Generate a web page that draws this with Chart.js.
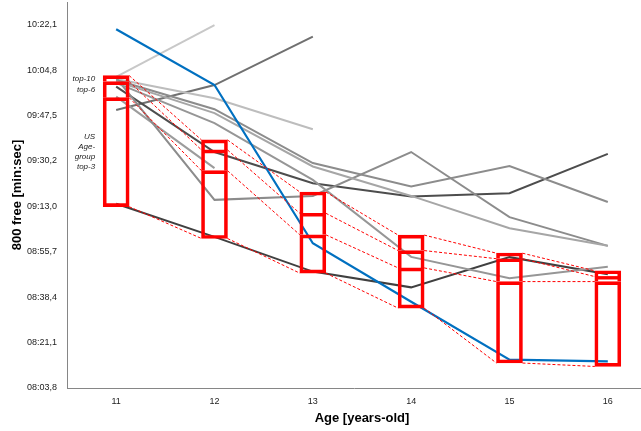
<!DOCTYPE html>
<html><head><meta charset="utf-8">
<script src="https://cdn.jsdelivr.net/npm/chart.js@4"></script>
<style>
html,body{margin:0;padding:0;background:#fff;overflow:hidden;width:641px;height:431px;}
#c{display:block;}
</style></head><body>
<canvas id="c" width="641" height="431" style="width:641px;height:431px"></canvas>
<script>
// ---- data (seconds) ----
const ages = [11, 12, 13, 14, 15, 16];
const xTickLabels = ['11', '12', '13', '14', '15', '16'];
const yTickValues = [483.8, 501.1, 518.4, 535.7, 553.0, 570.2, 587.5, 604.8, 622.1];
const yTickLabels = ['08:03,8', '08:21,1', '08:38,4', '08:55,7', '09:13,0', '09:30,2', '09:47,5', '10:04,8', '10:22,1'];

const swimmerBlue = [620.3, 599.1, 538.9, 516.6, 494.6, 493.9];
const swimmerA = [598.5, 573.6, 561.7, 556.7, 557.9, 572.9];
const swimmerB = [553.9, 541.3, 528.1, 522.1, 533.6, 527.1];
const swimmerC = [601.8, 555.4, 556.9, 573.6, 548.8, 537.9];
const swimmerD = [601.0, 589.9, 569.4, 560.5, 568.3, 554.6];
const swimmerE = [599.9, 584.6, 563.0, 533.7, 525.6, 529.9];
const swimmerF = [600.5, 588.4, 568.1, 556.9, 544.6, 537.9];
const swimmerG = [602.2, 621.9, null, null, null, null];
const swimmerH = [589.6, 599.1, 617.5, null, null, null];
const swimmerI = [601.4, 594.1, 582.3, null, null, null];
const swimmerJ = [594.7, 567.5, null, null, null, null];

const levelTop10 = [602.7, 578.2, 558.4, 542.0, 535.1, 528.4];
const levelTop6 = [600.4, 574.4, 550.3, 536.1, 533.0, 526.2];
const levelTop3 = [594.3, 566.5, 542.1, 529.5, 524.3, 524.3];
const levelBottom = [552.8, 540.7, 527.5, 514.2, 493.3, 492.0];
const bandLabels = [['top-10'], ['top-6'], ['US', 'Age-', 'group', 'top-3']];
const xTitle = 'Age [years-old]';

// ---- helpers ----
const FONT = "'Liberation Sans', Arial, sans-serif";
const toPoints = arr => ages.map((a, i) => ({x: a, y: arr[i]})).filter(p => p.y !== null);
const toRange = (lo, hi) => ages.map((a, i) => ({x: a, y: [lo[i], hi[i]]}));
// category slots of the age axis run from 10.5 to 16.5; the picture is cropped at the right
const X_MIN = ages[0] - 0.5;
const SLOT_PX = 98.33;

function lineDs(arr, color, width, order) {
  return {type: 'line', data: toPoints(arr), borderColor: color, backgroundColor: color,
    borderWidth: width, pointRadius: 0, pointHoverRadius: 0, tension: 0, fill: false, order: order};
}
const RED = '#ff0000';
function barDs(lo, hi, bw) {
  return {type: 'bar', data: toRange(lo, hi), borderColor: RED, backgroundColor: 'rgba(0,0,0,0)',
    borderWidth: bw, borderSkipped: false, barThickness: 26, grouped: false, order: 0};
}

const connectorPlugin = {
  id: 'connectors',
  afterDatasetsDraw(chart) {
    const ctx = chart.ctx;
    const y = chart.scales.y;
    const x = chart.scales.x;
    const meta = chart.getDatasetMeta(chart.data.datasets.length - 1);
    const els = meta.data;
    const levels = [levelTop10, levelTop6, levelTop3, levelBottom];
    ctx.save();
    ctx.strokeStyle = RED;
    ctx.lineWidth = 1;
    ctx.setLineDash([3, 2]);
    for (let i = 0; i < els.length - 1; i++) {
      const a = els[i].getProps(['x', 'width'], true);
      const b = els[i + 1].getProps(['x', 'width'], true);
      levels.forEach(lv => {
        ctx.beginPath();
        ctx.moveTo(a.x + a.width / 2, y.getPixelForValue(lv[i]));
        ctx.lineTo(b.x - b.width / 2, y.getPixelForValue(lv[i + 1]));
        ctx.stroke();
      });
    }
    ctx.setLineDash([]);
    // band labels beside first box
    const f = els[0].getProps(['x', 'width'], true);
    const lx = f.x - f.width / 2 - 8;
    ctx.fillStyle = '#222';
    ctx.font = "italic 8px " + FONT;
    ctx.textAlign = 'right';
    ctx.textBaseline = 'middle';
    bandLabels.forEach((lines, k) => {
      const cy = (y.getPixelForValue(levels[k][0]) + y.getPixelForValue(levels[k + 1][0])) / 2;
      const lh = 10;
      lines.forEach((t, j) => {
        ctx.fillText(t, lx, cy + (j - (lines.length - 1) / 2) * lh);
      });
    });
    // x-axis title centred on the full (uncropped) category range
    ctx.fillStyle = '#000';
    ctx.font = "bold 13px " + FONT;
    ctx.textAlign = 'center';
    ctx.textBaseline = 'middle';
    ctx.fillText(xTitle, x.getPixelForValue((ages[0] + ages[ages.length - 1]) / 2), 418);
    ctx.restore();
  }
};

new Chart(document.getElementById('c'), {
  type: 'line',
  data: {
    datasets: [
      lineDs(swimmerG, '#c8c8c8', 2, 3),
      lineDs(swimmerI, '#bdbdbd', 2, 3),
      lineDs(swimmerJ, '#9c9c9c', 2, 3),
      lineDs(swimmerH, '#707070', 2, 3),
      lineDs(swimmerF, '#a6a6a6', 2, 2),
      lineDs(swimmerE, '#969696', 2, 2),
      lineDs(swimmerD, '#8c8c8c', 2, 2),
      lineDs(swimmerC, '#8c8c8c', 2, 2),
      lineDs(swimmerA, '#4d4d4d', 2, 2),
      lineDs(swimmerB, '#404040', 2, 2),
      lineDs(swimmerBlue, '#0070c0', 2.2, 1),
      barDs(levelTop6, levelTop10, {top: 3, left: 3, right: 3, bottom: 0}),
      barDs(levelTop3, levelTop6, {top: 3, left: 3, right: 3, bottom: 0}),
      barDs(levelBottom, levelTop3, {top: 3, left: 3, right: 3, bottom: 3})
    ]
  },
  options: {
    responsive: false,
    animation: false,
    layout: {autoPadding: false, padding: {top: 2, left: 0, right: 0, bottom: 0}},
    plugins: {legend: {display: false}, tooltip: {enabled: false}},
    scales: {
      x: {
        type: 'linear', min: X_MIN, max: X_MIN + (641 - 67) / SLOT_PX, offset: false,
        afterBuildTicks: s => { s.ticks = ages.map(v => ({value: v})); },
        afterFit: s => { s.height = 43; s.paddingLeft = 0; s.paddingRight = 0; s.paddingTop = 0; s.paddingBottom = 0; },
        ticks: {callback: (v, i) => xTickLabels[i], font: {family: FONT, size: 9}, color: '#222', padding: 8, autoSkip: false, maxRotation: 0},
        grid: {display: false, drawTicks: false, offset: false},
        border: {display: true, color: '#868686', width: 1},
        title: {display: false}
      },
      y: {
        type: 'linear', min: 483.8, max: 630.7,
        afterBuildTicks: s => { s.ticks = yTickValues.map(v => ({value: v})); },
        afterFit: s => { s.width = 67; s.paddingTop = 0; s.paddingBottom = 0; s.paddingLeft = 0; s.paddingRight = 0; },
        ticks: {callback: (v, i) => yTickLabels[i], font: {family: FONT, size: 9}, color: '#222', padding: 10, autoSkip: false},
        grid: {display: false, drawTicks: false},
        border: {display: true, color: '#868686', width: 1},
        title: {display: true, text: '800 free [min:sec]', color: '#000', font: {family: FONT, size: 13, weight: 'bold'}, padding: {top: 10, bottom: 0}}
      }
    }
  },
  plugins: [connectorPlugin]
});
</script>
</body></html>
